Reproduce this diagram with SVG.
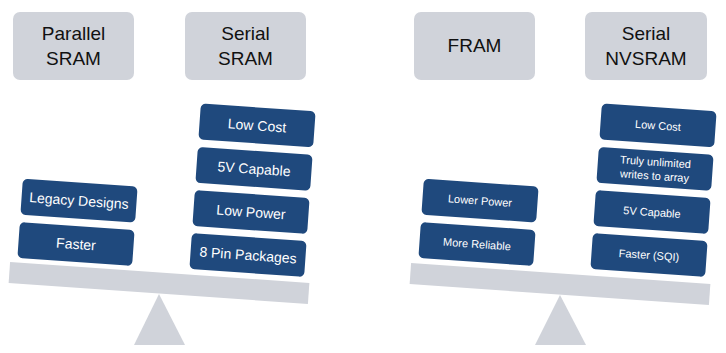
<svg xmlns="http://www.w3.org/2000/svg" width="726" height="353" viewBox="0 0 726 353">
<style>
.hdr{fill:#D0D3DA}
.hdr-t{font-family:"Liberation Sans",Arial,sans-serif;font-size:19px;fill:#111;text-anchor:middle}
.blue{fill:#1F497D}
.bt{font-family:"Liberation Sans",Arial,sans-serif;font-size:14px;fill:#fff;text-anchor:middle}
.bs{font-family:"Liberation Sans",Arial,sans-serif;font-size:11px;fill:#fff;text-anchor:middle}
.scale{fill:#D0D3DA}
</style>
<defs>
<rect id="box" x="-57.5" y="-18" width="115" height="36" rx="5"/>
</defs>
<rect width="726" height="353" fill="#fff"/>

<!-- Left panel -->
<g id="hdr-parallel-sram">
<rect class="hdr" x="13" y="12" width="121" height="68" rx="7"/>
<text class="hdr-t" x="73.5" y="40">Parallel</text>
<text class="hdr-t" x="73.5" y="64.5">SRAM</text>
</g>
<g id="hdr-serial-sram">
<rect class="hdr" x="185" y="12" width="121" height="68" rx="7"/>
<text class="hdr-t" x="245.5" y="40">Serial</text>
<text class="hdr-t" x="245.5" y="64.5">SRAM</text>
</g>
<g id="beam-left" class="scale">
<rect x="-150" y="-10.5" width="300" height="21" transform="translate(159,283) rotate(4)"/>
<polygon points="159,294 134,345 185,345"/>
</g>
<g id="l-legacy" transform="translate(79,200.6) rotate(4)">
<use href="#box" class="blue"/>
<text class="bt" x="0" y="5">Legacy Designs</text>
</g>
<g id="l-faster" transform="translate(76,244) rotate(4)">
<use href="#box" class="blue"/>
<text class="bt" x="0" y="5">Faster</text>
</g>
<g id="l-lowcost" transform="translate(257,125.4) rotate(4)">
<use href="#box" class="blue"/>
<text class="bt" x="0" y="5">Low Cost</text>
</g>
<g id="l-5v" transform="translate(254,168.8) rotate(4)">
<use href="#box" class="blue"/>
<text class="bt" x="0" y="5">5V Capable</text>
</g>
<g id="l-lowpower" transform="translate(251,212) rotate(4)">
<use href="#box" class="blue"/>
<text class="bt" x="0" y="5">Low Power</text>
</g>
<g id="l-8pin" transform="translate(248,255) rotate(4)">
<use href="#box" class="blue"/>
<text class="bt" x="0" y="5">8 Pin Packages</text>
</g>

<!-- Right panel -->
<g id="hdr-fram">
<rect class="hdr" x="414" y="12" width="121" height="68" rx="7"/>
<text class="hdr-t" x="474.5" y="52">FRAM</text>
</g>
<g id="hdr-serial-nvsram">
<rect class="hdr" x="585" y="12" width="122" height="68" rx="7"/>
<text class="hdr-t" x="646" y="40">Serial</text>
<text class="hdr-t" x="646" y="64.5">NVSRAM</text>
</g>
<g id="beam-right" class="scale">
<rect x="-150" y="-10.5" width="300" height="21" transform="translate(560,284) rotate(4)"/>
<polygon points="560,295 535,345 586,345"/>
</g>
<g id="r-lowerpower" transform="translate(480,200.6) rotate(4)">
<use href="#box" class="blue"/>
<text class="bs" x="0" y="4">Lower Power</text>
</g>
<g id="r-reliable" transform="translate(477,244) rotate(4)">
<use href="#box" class="blue"/>
<text class="bs" x="0" y="4">More Reliable</text>
</g>
<g id="r-lowcost" transform="translate(658,125.4) rotate(4)">
<use href="#box" class="blue"/>
<text class="bs" x="0" y="4">Low Cost</text>
</g>
<g id="r-unlimited" transform="translate(655,168.8) rotate(4)">
<use href="#box" class="blue"/>
<text class="bs" x="0" y="-3">Truly unlimited</text>
<text class="bs" x="0" y="11">writes to array</text>
</g>
<g id="r-5v" transform="translate(652,212) rotate(4)">
<use href="#box" class="blue"/>
<text class="bs" x="0" y="4">5V Capable</text>
</g>
<g id="r-faster-sqi" transform="translate(649,255) rotate(4)">
<use href="#box" class="blue"/>
<text class="bs" x="0" y="4">Faster (SQI)</text>
</g>
</svg>
